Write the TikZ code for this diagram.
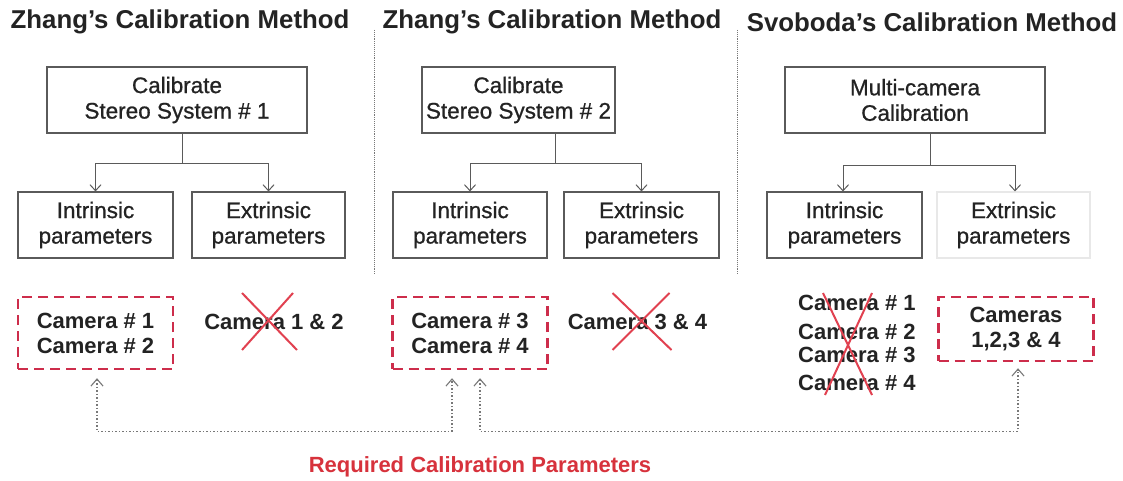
\documentclass[tikz,border=0pt]{standalone}
\usepackage{fontspec}
\setmainfont{Liberation Sans}
\newfontfamily\boxfont[FakeBold=0.8]{Liberation Sans}
\usetikzlibrary{arrows.meta,calc}
\definecolor{ink}{RGB}{35,35,35}
\definecolor{frame}{RGB}{90,90,90}
\definecolor{reqred}{RGB}{205,45,75}
\definecolor{crossred}{RGB}{225,65,80}
\definecolor{labelred}{RGB}{215,50,60}
\definecolor{guide}{RGB}{120,120,120}
\definecolor{faint}{RGB}{232,232,232}

\begin{document}
\begin{tikzpicture}[x=1pt,y=-1pt,
  every node/.style={inner sep=0pt, text=ink},
  title/.style={font=\fontsize{25.8}{30}\selectfont\bfseries},
  box/.style={draw=frame, line width=1.1pt, align=center,
    font=\boxfont\fontsize{22.5}{25.5}\selectfont, minimum height=66},
  conn/.style={draw=frame, line width=1pt, -{Straight Barb[length=6pt,width=11pt]}},
  reqbox/.style={draw=reqred, line width=2.4pt, dash pattern=on 10pt off 6pt,
    align=center, font=\fontsize{22}{25}\selectfont\bfseries, minimum width=155},
  cam/.style={font=\fontsize{22}{25}\selectfont\bfseries},
  cross/.style={draw=crossred, line width=2pt},
  link/.style={draw=guide, line width=1.1pt, dash pattern=on 1.5pt off 2pt,
    {Straight Barb[length=7pt,width=12pt]}-{Straight Barb[length=7pt,width=12pt]}},
  sep/.style={draw=guide, line width=0.9pt, densely dotted}]

\useasboundingbox[fill=white] (0,0) rectangle (1123,481);

% column titles
\node[title] (h1) at (180,22) {Zhang's Calibration Method};
\node[title] (h2) at (552,22) {Zhang's Calibration Method};
\node[title] (h3) at (932,22) {Svoboda's Calibration Method};

% column separators
\draw[sep] (374,30) -- (374,275);
\draw[sep] (737,30) -- (737,275);

% calibration steps
\node[box, minimum width=260] (b1) at (177,100) {Calibrate\\Stereo System \# 1};
\node[box, minimum width=193] (b2) at (518.5,100) {Calibrate\\Stereo System \# 2};
\node[box, minimum width=260] (b3) at (915,100) {Multi-camera\\Calibration};

% parameter boxes
\node[box, minimum width=155] (c1a) at (95.5,225) {Intrinsic\\parameters};
\node[box, minimum width=153] (c1b) at (268.5,225) {Extrinsic\\parameters};
\node[box, minimum width=154] (c2a) at (470,225) {Intrinsic\\parameters};
\node[box, minimum width=155] (c2b) at (641.5,225) {Extrinsic\\parameters};
\node[box, minimum width=155] (c3a) at (844.5,225) {Intrinsic\\parameters};
\node[box, minimum width=153, draw=faint] (c3b) at (1013.5,225) {Extrinsic\\parameters};

% branching connectors
\draw[conn] ([xshift=5]b1.south) -- ++(0,30) -| (c1a.north);
\draw[conn] ([xshift=5]b1.south) -- ++(0,30) -| (c1b.north);
\draw[conn] ([xshift=36.5]b2.south) -- ++(0,30) -| (c2a.north);
\draw[conn] ([xshift=36.5]b2.south) -- ++(0,30) -| (c2b.north);
\draw[conn] ([xshift=15]b3.south) -- ++(0,32) -| ([xshift=-1.5]c3a.north);
\draw[conn] ([xshift=15]b3.south) -- ++(0,32) -| ([xshift=1.5]c3b.north);

% required parameters
\node[reqbox, minimum height=72] (d1) at (95.5,333) {Camera \# 1\\Camera \# 2};
\node[reqbox, minimum height=72] (d2) at (470,333) {Camera \# 3\\Camera \# 4};
\node[reqbox, minimum height=64] (d3) at (1016,329) {Cameras\\1,2,3 \& 4};

% parameters that are not required
\node[cam] (t12) at (274,322) {Camera 1 \& 2};
\node[cam] (t34) at (637.5,322) {Camera 3 \& 4};
\node[cam, anchor=west] (k1) at (798,303) {Camera \# 1};
\node[cam, anchor=west] (k2) at (798,332) {Camera \# 2};
\node[cam, anchor=west] (k3) at (798,355) {Camera \# 3};
\node[cam, anchor=west] (k4) at (798,383) {Camera \# 4};

\draw[cross] ($(t12)+(-32,-29)$) -- ($(t12)+(23,28)$);
\draw[cross] ($(t12)+(19,-29)$) -- ($(t12)+(-32,28)$);
\draw[cross] ($(t34)+(-25,-29)$) -- ($(t34)+(34,28)$);
\draw[cross] ($(t34)+(32,-29)$) -- ($(t34)+(-25,28)$);
\draw[cross] ($(k1.west)+(25,-10)$) -- ($(k4.west)+(74,12)$);
\draw[cross] ($(k1.west)+(74,-10)$) -- ($(k4.west)+(27,12)$);

% links between the required parameters (shifts are in page units, so negative is down)
\draw[link] ([xshift=1.5,yshift=-8]d1.south) |- ([xshift=-18,yshift=-61]d2.south)
  -- ([xshift=-18,yshift=-8]d2.south);
\draw[link] ([xshift=10,yshift=-8]d2.south) |- ([xshift=2,yshift=-69]d3.south)
  -- ([xshift=2,yshift=-6]d3.south);

\node[font=\fontsize{22}{26}\selectfont\bfseries, text=labelred] (lbl) at (480,467)
  {Required Calibration Parameters};
\end{tikzpicture}
\end{document}
